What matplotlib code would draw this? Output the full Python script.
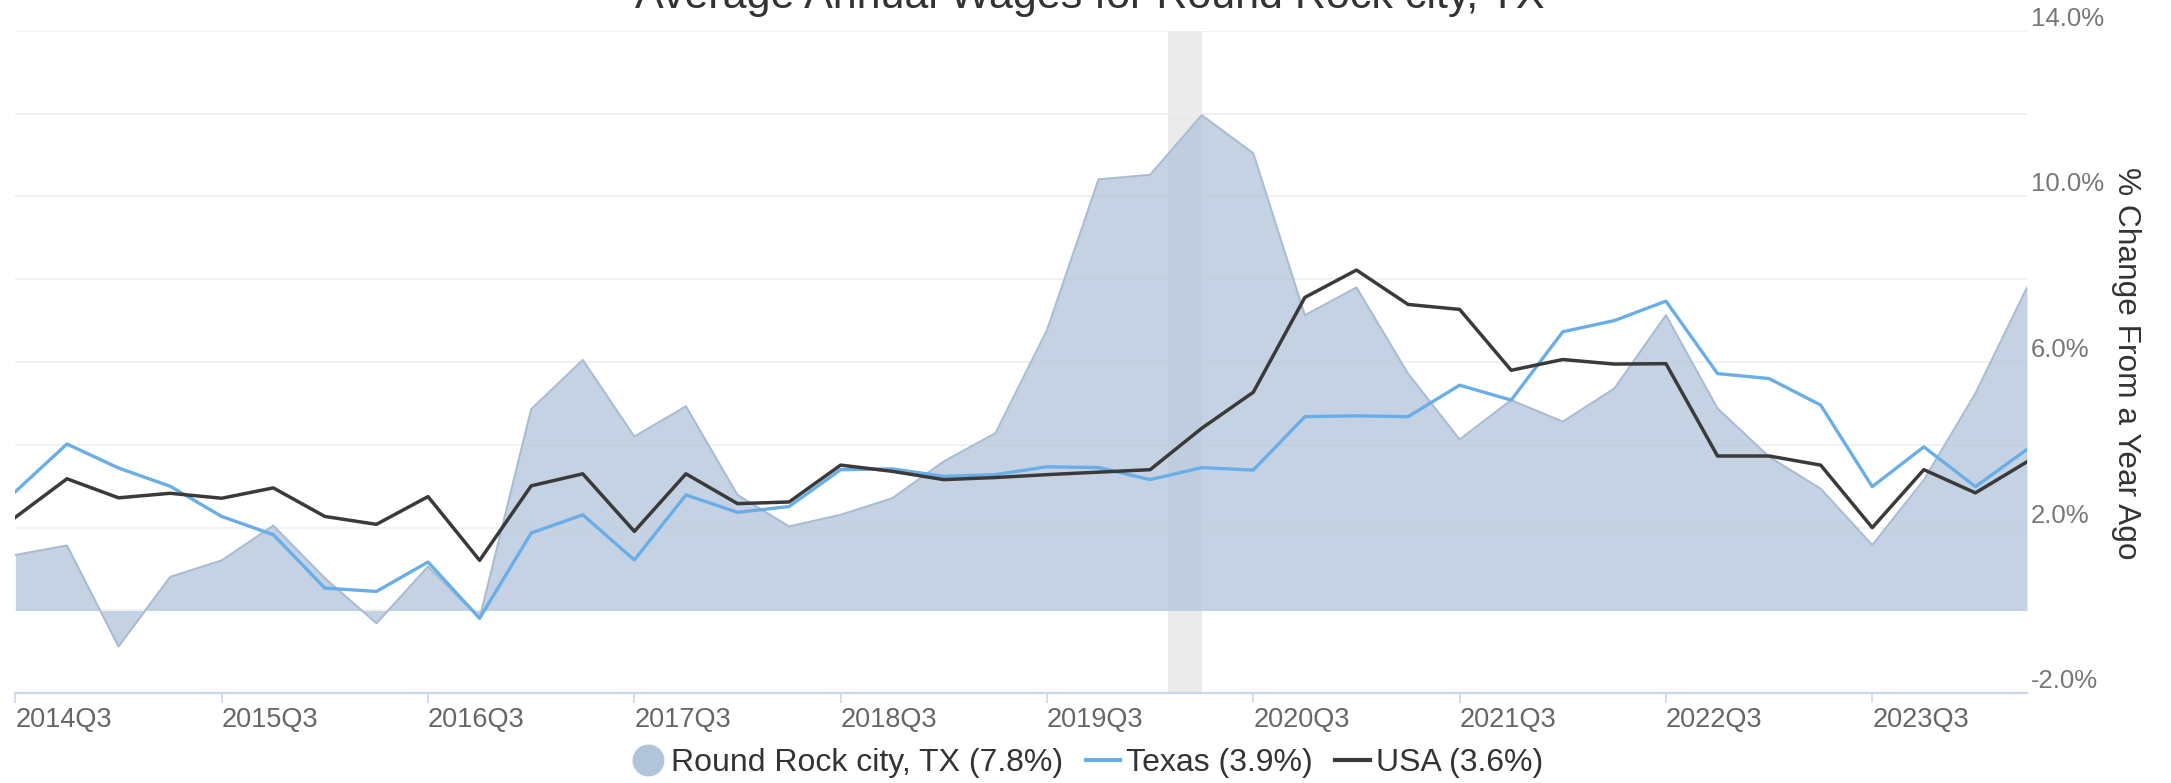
import matplotlib
matplotlib.use("Agg")
import matplotlib.pyplot as plt
from matplotlib.lines import Line2D
import numpy as np

plt.rcParams['font.family'] = ['Liberation Sans', 'DejaVu Sans']

# % change from a year ago, quarterly, 2014Q3 .. 2024Q2
round_rock = [1.34, 1.57, -0.87, 0.81, 1.21, 2.05, 0.78, -0.31, 1.06, -0.19,
              4.86, 6.05, 4.20, 4.93, 2.79, 2.03, 2.31, 2.71, 3.60, 4.28,
              6.77, 10.41, 10.52, 11.96, 11.04, 7.13, 7.80, 5.72, 4.13, 5.08,
              4.56, 5.36, 7.13, 4.88, 3.71, 2.94, 1.58, 3.15, 5.24, 7.80]
texas = [2.87, 4.02, 3.44, 3.00, 2.27, 1.83, 0.54, 0.46, 1.17, -0.19,
         1.87, 2.31, 1.22, 2.79, 2.37, 2.51, 3.40, 3.42, 3.24, 3.28,
         3.47, 3.45, 3.16, 3.45, 3.39, 4.68, 4.70, 4.68, 5.44, 5.08,
         6.73, 7.00, 7.47, 5.72, 5.60, 4.96, 2.99, 3.95, 2.99, 3.89]
usa = [2.25, 3.18, 2.72, 2.83, 2.71, 2.96, 2.27, 2.08, 2.75, 1.21,
       3.01, 3.30, 1.91, 3.30, 2.58, 2.62, 3.51, 3.36, 3.16, 3.21,
       3.28, 3.34, 3.40, 4.40, 5.27, 7.56, 8.22, 7.39, 7.27, 5.80,
       6.06, 5.95, 5.96, 3.73, 3.73, 3.51, 2.00, 3.40, 2.84, 3.59]

tick_labels = ["2014Q3", "2015Q3", "2016Q3", "2017Q3", "2018Q3",
               "2019Q3", "2020Q3", "2021Q3", "2022Q3", "2023Q3"]
legend_labels = ["Round Rock city, TX (7.8%)", "Texas (3.9%)", "USA (3.6%)"]
recession = (22.35, 23.0)  # Feb 2020 - Apr 2020, in quarter index units

area_col = "#b2c4da"
area_edge = "#a9bcd4"
texas_col = "#6aaee8"
usa_col = "#3a3a3a"

x = np.arange(len(round_rock))

fig = plt.figure(figsize=(21.71, 7.83), dpi=100)
ax = fig.add_axes([0.00709, 0.11456, 0.92658, 0.84623])

ax.axvspan(recession[0], recession[1], color="#ebebeb", lw=0, zorder=0)
ax.fill_between(x, 0, round_rock, color=area_col, alpha=0.75, lw=0, zorder=2)
ax.plot(x, round_rock, color=area_edge, lw=1.5, zorder=3)
ax.plot(x, texas, color=texas_col, lw=2.4, zorder=4)
ax.plot(x, usa, color=usa_col, lw=2.5, zorder=5)

ax.set_xlim(0, len(round_rock) - 1)
ax.set_ylim(-2, 14)

# y axis on the right, gridlines every 2%, labels every 4%
yt = np.arange(-2, 15, 2)
ax.set_yticks(yt)
ax.set_yticklabels(["%.1f%%" % v if (v + 2) % 4 == 0 else "" for v in yt])
ax.yaxis.tick_right()
ax.tick_params(axis="y", length=0, pad=3, labelsize=18.5, labelcolor="#777777")
for lab in ax.get_yticklabels():
    lab.set_verticalalignment("bottom")
ax.grid(axis="y", color="#efefef", lw=1.2, zorder=1)
ax.set_axisbelow(True)

ax.set_xticks(x[::4])
ax.set_xticklabels(tick_labels, ha="left")
ax.tick_params(axis="x", length=7, width=1.2, color="#ccd6eb", pad=3,
               labelsize=19.5, labelcolor="#666666")

for s in ["top", "left", "right"]:
    ax.spines[s].set_visible(False)
ax.spines["bottom"].set_color("#ccd6eb")
ax.spines["bottom"].set_linewidth(1.6)
ax.spines["bottom"].set_zorder(6)

fig.text(0.9795, 0.5364, "% Change From a Year Ago", rotation=270,
         ha="center", va="center", fontsize=22.8, color="#333333")
fig.text(0.502, 1 - 8 / 783, "Average Annual Wages for Round Rock city, TX",
         ha="center", va="baseline", fontsize=31, color="#333333")

handles = [Line2D([], [], marker="o", ls="none", markersize=23,
                  markerfacecolor=area_col, markeredgecolor="none"),
           Line2D([], [], color=texas_col, lw=3),
           Line2D([], [], color=usa_col, lw=3)]
fig.legend(handles, legend_labels, loc="center", bbox_to_anchor=(0.5007, 0.0255),
           ncol=3, frameon=False, fontsize=23, handlelength=1.07,
           handletextpad=0.2, columnspacing=0.7, labelcolor="#333333")

fig.savefig("out.png", dpi=100)
